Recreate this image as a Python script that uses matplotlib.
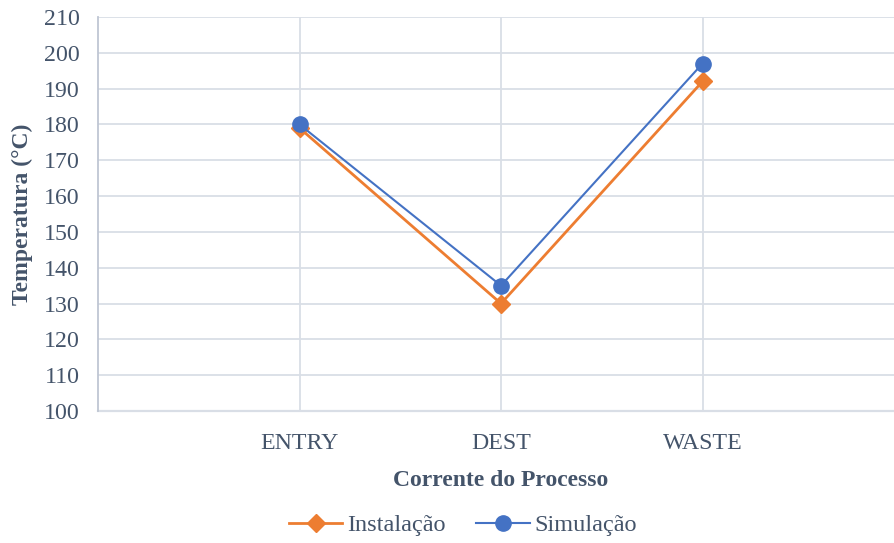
import matplotlib
matplotlib.use("Agg")
import matplotlib.pyplot as plt
from matplotlib.lines import Line2D

categories = ["ENTRY", "DEST", "WASTE"]
instalacao = [179, 130, 192]
simulacao = [180, 135, 197]
y_ticks = list(range(100, 211, 10))

text_color = "#44546A"
grid_color = "#D9DEE6"
orange = "#ED7D31"
blue = "#4472C4"

plt.rcParams["font.family"] = ["Liberation Serif", "DejaVu Serif"]

fig = plt.figure(figsize=(8.94, 5.43), dpi=100)
# plot area: left edge at x=98px, y from 17px (210) to 411px (100)
W, H = 894, 543
left, right = 98 / W, 904 / W
bottom, top = (H - 411) / H, (H - 17) / H
ax = fig.add_axes([left, bottom, right - left, top - bottom])

x = list(range(1, len(categories) + 1))
ax.set_xlim(0, len(categories) + 1)
ax.set_ylim(100, 210)
ax.set_yticks(y_ticks)
ax.set_xticks(x)
ax.set_xticklabels(categories)

ax.grid(True, color=grid_color, linewidth=1.3)
ax.set_axisbelow(True)
for s in ["top", "right", "bottom"]:
    ax.spines[s].set_visible(False)
ax.spines["left"].set_color("#BFC6D3")
ax.spines["left"].set_linewidth(1.3)
ax.axhline(100, color=grid_color, linewidth=1.6, zorder=1, clip_on=False)

ax.tick_params(axis="both", length=0, labelsize=17.2, colors=text_color)
ax.tick_params(axis="y", pad=13)
ax.tick_params(axis="x", pad=16)

ax.plot(x, instalacao, color=orange, linewidth=2, marker="D", markersize=9,
        label="Instalação", zorder=3)
ax.plot(x, simulacao, color=blue, linewidth=1.5, marker="o", markersize=11,
        label="Simulação", zorder=4)

ax.set_ylabel("Temperatura (°C)", fontsize=17, fontweight="bold",
              color=text_color, labelpad=8)
ax.set_xlabel("Corrente do Processo", fontsize=17, fontweight="bold",
              color=text_color, labelpad=11)

handles = [
    Line2D([], [], color=orange, linewidth=2, marker="D", markersize=9),
    Line2D([], [], color=blue, linewidth=1.5, marker="o", markersize=11),
]
fig.legend(handles, ["Instalação", "Simulação"], loc="center",
           bbox_to_anchor=(463 / W, 1 - 525 / H), ncol=2, frameon=False,
           fontsize=17.5, labelcolor=text_color, handlelength=2.2,
           handletextpad=0.2, columnspacing=1.25)

fig.savefig("out.png", dpi=100)
